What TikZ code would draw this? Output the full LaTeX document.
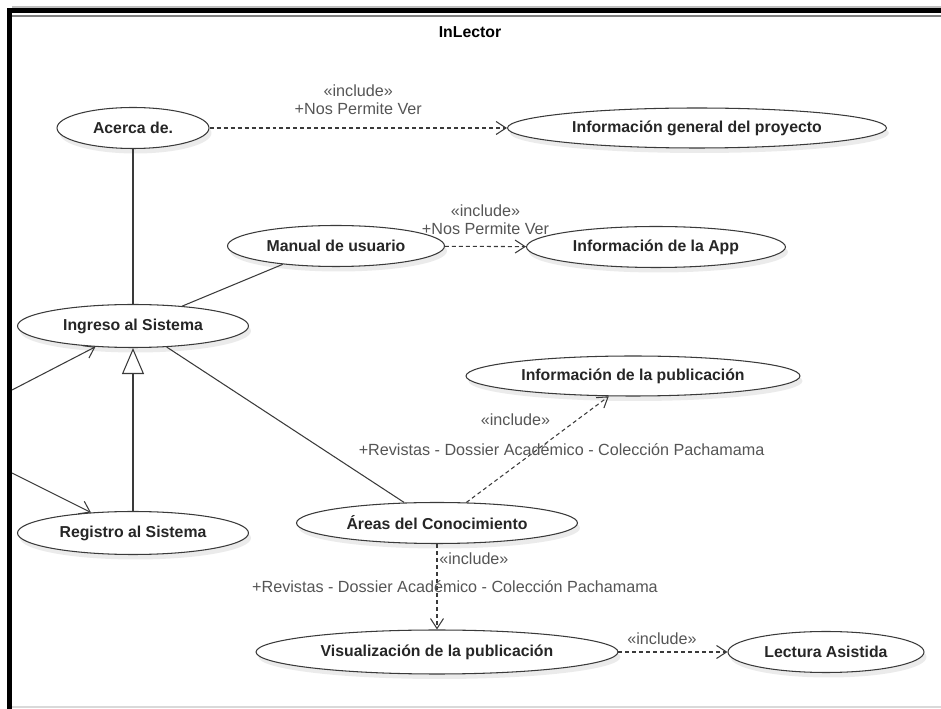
\documentclass[tikz,border=0pt]{standalone}
\usepackage{fontspec}
\setmainfont{Liberation Sans}
\usetikzlibrary{arrows.meta, shapes.geometric, shadows}

\definecolor{linegray}{HTML}{3A3A3A}
\definecolor{lblgray}{HTML}{555555}

\begin{document}
\begin{tikzpicture}[x=0.02cm, y=-0.02cm, >=Stealth,
  usecase/.style={ellipse, draw=linegray, fill=white, line width=0.6pt, inner sep=0pt,
    minimum height=0.82cm, font=\fontsize{9}{10}\selectfont\bfseries, text=black!85,
    drop shadow={shadow xshift=0.05cm, shadow yshift=-0.1cm, fill=black, opacity=0.08}},
  assoc/.style={draw=linegray, line width=0.6pt},
  incl/.style={assoc, dash pattern=on 0.08cm off 0.06cm,
    -{Straight Barb[length=0.2cm, width=0.26cm]}},
  lbl/.style={font=\fontsize{9.2}{10}\selectfont, text=lblgray, inner sep=1pt, align=center}]
  \useasboundingbox (0,0) rectangle (941,709);
  % Frame
  \draw[black!25, line width=0.03cm] (12,7) -- (941,7);
  \draw[line width=0.1cm] (9.5,709) -- (9.5,10.5) -- (941,10.5);
  \draw[gray, line width=0.04cm] (12,16) -- (941,16);
  \draw[black!15, line width=0.04cm] (12,707) -- (941,707);
  \node[font=\fontsize{9}{10}\selectfont\bfseries] (title) at (470,32) {InLector};
  % Use cases
  \node[usecase, minimum width=3.04cm] (acerca) at (133,128) {Acerca de.};
  \node[usecase, minimum width=7.58cm, minimum height=0.8cm] (infogen) at (697,128) {Información general del proyecto};
  \node[usecase, minimum width=4.34cm] (manual) at (336,246) {Manual de usuario};
  \node[usecase, minimum width=5.18cm] (infoapp) at (656,247) {Información de la App};
  \node[usecase, minimum width=4.62cm, minimum height=0.86cm] (ingreso) at (133,326) {Ingreso al Sistema};
  \node[usecase, minimum width=6.68cm, minimum height=0.8cm] (infopub) at (633,376) {Información de la publicación};
  \node[usecase, minimum width=4.62cm, minimum height=0.86cm] (registro) at (133,533) {Registro al Sistema};
  \node[usecase, minimum width=5.62cm] (areas) at (437,523) {Áreas del Conocimiento};
  \node[usecase, minimum width=7.24cm, minimum height=0.88cm] (visual) at (437,652) {Visualización de la publicación};
  \node[usecase, minimum width=3.92cm] (lectura) at (826,652) {Lectura Asistida};
  % Actor ends (outside the frame)
  \coordinate (actup) at (12,390);
  \coordinate (actdown) at (12,473);
  % Associations
  \draw[assoc] (acerca) -- (ingreso);
  \draw[assoc] (ingreso.22) -- (manual.-161);
  \draw[assoc] (ingreso.-32) -- (areas.148);
  \draw[assoc, -{Straight Barb[length=0.2cm, width=0.28cm]}] (actup) -- (ingreso.-151);
  \draw[assoc, -{Straight Barb[length=0.2cm, width=0.28cm]}] (actdown) -- (registro.154);
  \draw[assoc, -{Triangle[length=0.52cm, width=0.44cm, fill=white]}] (registro) -- (ingreso);
  % Includes
  \draw[incl] (acerca) -- (infogen)
    node[lbl, midway, above=6.5pt] {«include»\\+Nos Permite Ver};
  \draw[incl] (manual) -- (infoapp)
    node[lbl, midway, above=5.5pt] {«include»\\+Nos Permite Ver};
  \draw[incl] (areas.35) -- (infopub.-140)
    node[lbl, pos=0.5, xshift=0.48cm] {+Revistas - Dossier Académico - Colección Pachamama}
    node[lbl, pos=0.78, xshift=-1.24cm] {«include»};
  \draw[incl] (areas) -- (visual)
    node[lbl, pos=0.17, right=0pt] {«include»}
    node[lbl, pos=0.5, xshift=0.36cm] {+Revistas - Dossier Académico - Colección Pachamama};
  \draw[incl] (visual) -- (lectura)
    node[lbl, midway, above=3pt, xshift=-0.22cm] {«include»};
\end{tikzpicture}
\end{document}
